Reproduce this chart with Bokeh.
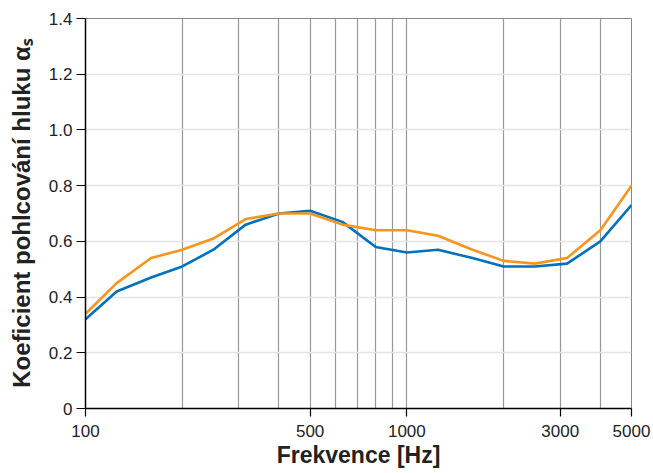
from bokeh.plotting import figure
from bokeh.models import FixedTicker
from bokeh.embed import file_html
from bokeh.resources import INLINE

freqs = [100, 125, 160, 200, 250, 315, 400, 500, 630, 800, 1000, 1250, 1600, 2000, 2500, 3150, 4000, 5000]
blue_vals = [0.32, 0.42, 0.47, 0.51, 0.57, 0.66, 0.70, 0.71, 0.67, 0.58, 0.56, 0.57, 0.54, 0.51, 0.51, 0.52, 0.60, 0.73]
orange_vals = [0.34, 0.45, 0.54, 0.57, 0.61, 0.68, 0.70, 0.70, 0.66, 0.64, 0.64, 0.62, 0.57, 0.53, 0.52, 0.54, 0.64, 0.80]

x_ticks = [100, 500, 1000, 3000, 5000]
x_tick_labels = ["100", "500", "1000", "3000", "5000"]
x_grid_ticks = [200, 300, 400, 500, 600, 700, 800, 900, 1000, 2000, 3000, 4000]
y_ticks = [0, 0.2, 0.4, 0.6, 0.8, 1.0, 1.2, 1.4]
y_tick_labels = ["0", "0.2", "0.4", "0.6", "0.8", "1.0", "1.2", "1.4"]

FONT = "Liberation Sans"

p = figure(width=651, height=470, x_axis_type="log", x_range=(100, 5000), y_range=(0, 1.4),
           output_backend="svg", toolbar_location=None,
           frame_width=546, frame_height=390,
           min_border_left=85, min_border_right=20, min_border_top=18, min_border_bottom=62)

p.outline_line_color = "#888888"
p.outline_line_width = 1
p.background_fill_color = "white"
p.border_fill_color = "white"

for ax in (p.xaxis[0], p.yaxis[0]):
    ax.axis_line_color = "black"
    ax.axis_line_width = 1.5
    ax.major_tick_line_color = "black"
    ax.major_tick_line_width = 1.2
    ax.major_tick_in = 0
    ax.minor_tick_line_color = None
    ax.major_label_text_font = FONT
    ax.major_label_text_font_size = "17px"
    ax.major_label_text_color = "#222222"
    ax.axis_label_text_font = FONT
    ax.axis_label_text_font_style = "bold"
    ax.axis_label_text_color = "#222222"

p.xaxis.ticker = FixedTicker(ticks=x_ticks)
p.xaxis.major_label_overrides = {t: l for t, l in zip(x_ticks, x_tick_labels)}
p.xaxis.axis_label = "Frekvence [Hz]"
p.xaxis.axis_label_text_font_size = "23px"
p.xaxis.major_tick_out = 8
p.xaxis.axis_label_standoff = 2
p.xaxis.major_label_standoff = 8

p.yaxis.ticker = FixedTicker(ticks=y_ticks)
p.yaxis.major_label_overrides = {t: l for t, l in zip(y_ticks, y_tick_labels)}
p.yaxis.axis_label = "Koeficient pohlcování hluku αₛ"
p.yaxis.axis_label_text_font_size = "24px"
p.yaxis.major_tick_out = 9
p.yaxis.axis_label_standoff = 11
p.yaxis.major_label_standoff = 4

p.xgrid.ticker = FixedTicker(ticks=x_grid_ticks)
p.xgrid.grid_line_color = "#999999"
p.xgrid.grid_line_width = 1.2
p.ygrid.ticker = FixedTicker(ticks=y_ticks)
p.ygrid.grid_line_color = "#e4e4e4"
p.ygrid.grid_line_width = 1.5

p.line(freqs, blue_vals, line_color="#0071bc", line_width=2.6)
p.line(freqs, orange_vals, line_color="#f7941d", line_width=2.6)

open("out.html", "w").write(file_html(p, INLINE))
